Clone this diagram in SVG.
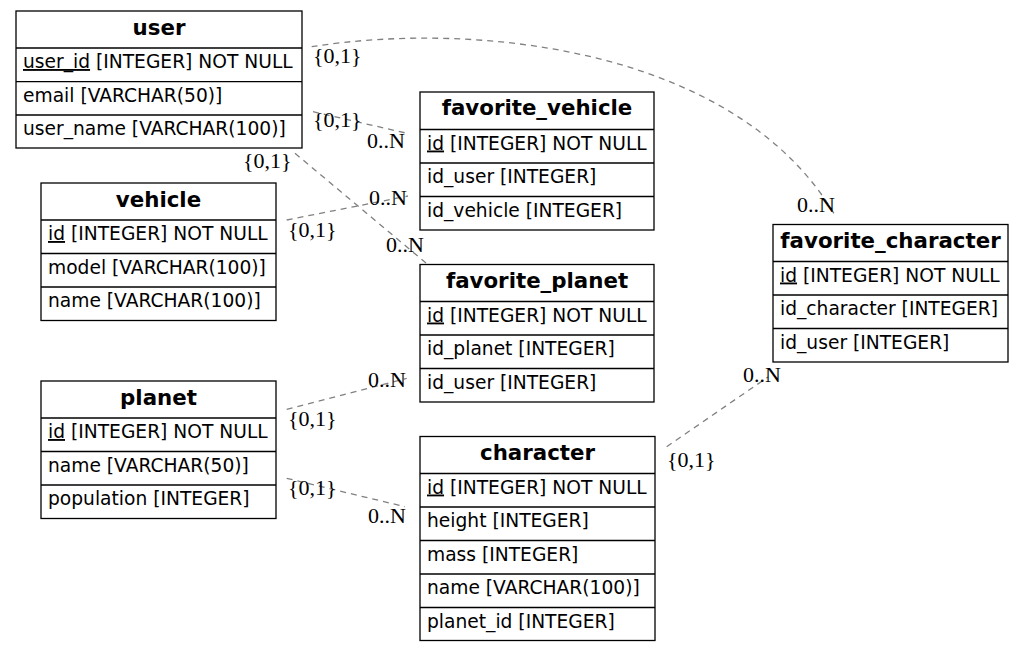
<svg xmlns="http://www.w3.org/2000/svg" width="1024" height="651" viewBox="0 0 1024 651">
<style>
.box{fill:#fff;stroke:#000;stroke-width:1.3}
.sep{stroke:#000;stroke-width:1.3}
.hd{font-family:"DejaVu Sans",sans-serif;font-weight:bold;font-size:21.33px;text-anchor:middle;fill:#000}
.fd{font-family:"DejaVu Sans",sans-serif;font-size:18.67px;fill:#000}
.u{text-decoration:underline}
.lb{font-family:"Liberation Serif",serif;font-size:22px;fill:#000}
.cn{fill:none;stroke:#808080;stroke-width:1.3;stroke-dasharray:6,5}
</style>
<rect width="1024" height="651" fill="#fff"/>
<g id="connectors">
<path class="cn" d="M311.7,46.7 C480,20 740,50 836,217"/>
<path class="cn" d="M313,111.7 L407,133.3"/>
<path class="cn" d="M295,153.3 L426,263"/>
<path class="cn" d="M286.7,220 L408,196"/>
<path class="cn" d="M286.7,409.3 L406.7,378.3"/>
<path class="cn" d="M286.7,478.3 L405,506.7"/>
<path class="cn" d="M666.7,446.7 L768,377"/>
<text class="lb" x="313" y="63">{0,1}</text>
<text class="lb" x="797" y="212">0..N</text>
<text class="lb" x="313" y="127">{0,1}</text>
<text class="lb" x="367" y="148">0..N</text>
<text class="lb" x="243" y="168">{0,1}</text>
<text class="lb" x="386" y="252">0..N</text>
<text class="lb" x="288" y="237">{0,1}</text>
<text class="lb" x="369" y="205">0..N</text>
<text class="lb" x="288" y="426">{0,1}</text>
<text class="lb" x="368" y="387">0..N</text>
<text class="lb" x="288" y="495">{0,1}</text>
<text class="lb" x="368" y="523">0..N</text>
<text class="lb" x="667" y="467">{0,1}</text>
<text class="lb" x="743" y="382">0..N</text>
</g>
<g id="user">
<rect class="box" x="16" y="11" width="286" height="137"/>
<line class="sep" x1="16" y1="48" x2="302" y2="48"/>
<line class="sep" x1="16" y1="81.7" x2="302" y2="81.7"/>
<line class="sep" x1="16" y1="115" x2="302" y2="115"/>
<text class="hd" x="159" y="34.5">user</text>
<text class="fd" x="23" y="68"><tspan class="u">user_id</tspan> [INTEGER] NOT NULL</text>
<text class="fd" x="23" y="101.5">email [VARCHAR(50)]</text>
<text class="fd" x="23" y="135">user_name [VARCHAR(100)]</text>
</g>
<g id="vehicle">
<rect class="box" x="41" y="183" width="235" height="137.5"/>
<line class="sep" x1="41" y1="220" x2="276" y2="220"/>
<line class="sep" x1="41" y1="253.5" x2="276" y2="253.5"/>
<line class="sep" x1="41" y1="287" x2="276" y2="287"/>
<text class="hd" x="158.5" y="206.5">vehicle</text>
<text class="fd" x="48" y="240"><tspan class="u">id</tspan> [INTEGER] NOT NULL</text>
<text class="fd" x="48" y="273.5">model [VARCHAR(100)]</text>
<text class="fd" x="48" y="307">name [VARCHAR(100)]</text>
</g>
<g id="planet">
<rect class="box" x="41" y="381" width="235" height="137.5"/>
<line class="sep" x1="41" y1="418" x2="276" y2="418"/>
<line class="sep" x1="41" y1="451.5" x2="276" y2="451.5"/>
<line class="sep" x1="41" y1="485" x2="276" y2="485"/>
<text class="hd" x="158.5" y="404.5">planet</text>
<text class="fd" x="48" y="438"><tspan class="u">id</tspan> [INTEGER] NOT NULL</text>
<text class="fd" x="48" y="471.5">name [VARCHAR(50)]</text>
<text class="fd" x="48" y="505">population [INTEGER]</text>
</g>
<g id="favorite_vehicle">
<rect class="box" x="420" y="92" width="234" height="138"/>
<line class="sep" x1="420" y1="129.5" x2="654" y2="129.5"/>
<line class="sep" x1="420" y1="163" x2="654" y2="163"/>
<line class="sep" x1="420" y1="196.5" x2="654" y2="196.5"/>
<text class="hd" x="537" y="115">favorite_vehicle</text>
<text class="fd" x="427" y="149.5"><tspan class="u">id</tspan> [INTEGER] NOT NULL</text>
<text class="fd" x="427" y="183">id_user [INTEGER]</text>
<text class="fd" x="427" y="216.5">id_vehicle [INTEGER]</text>
</g>
<g id="favorite_planet">
<rect class="box" x="420" y="264.5" width="234" height="137.5"/>
<line class="sep" x1="420" y1="301.5" x2="654" y2="301.5"/>
<line class="sep" x1="420" y1="335" x2="654" y2="335"/>
<line class="sep" x1="420" y1="368.5" x2="654" y2="368.5"/>
<text class="hd" x="537" y="288">favorite_planet</text>
<text class="fd" x="427" y="321.5"><tspan class="u">id</tspan> [INTEGER] NOT NULL</text>
<text class="fd" x="427" y="355">id_planet [INTEGER]</text>
<text class="fd" x="427" y="388.5">id_user [INTEGER]</text>
</g>
<g id="character">
<rect class="box" x="420" y="436.5" width="235" height="204"/>
<line class="sep" x1="420" y1="473.5" x2="655" y2="473.5"/>
<line class="sep" x1="420" y1="507" x2="655" y2="507"/>
<line class="sep" x1="420" y1="540.5" x2="655" y2="540.5"/>
<line class="sep" x1="420" y1="574" x2="655" y2="574"/>
<line class="sep" x1="420" y1="607.5" x2="655" y2="607.5"/>
<text class="hd" x="537.5" y="460">character</text>
<text class="fd" x="427" y="493.5"><tspan class="u">id</tspan> [INTEGER] NOT NULL</text>
<text class="fd" x="427" y="527">height [INTEGER]</text>
<text class="fd" x="427" y="560.5">mass [INTEGER]</text>
<text class="fd" x="427" y="594">name [VARCHAR(100)]</text>
<text class="fd" x="427" y="627.5">planet_id [INTEGER]</text>
</g>
<g id="favorite_character">
<rect class="box" x="773" y="224.5" width="235" height="137.5"/>
<line class="sep" x1="773" y1="261.5" x2="1008" y2="261.5"/>
<line class="sep" x1="773" y1="295" x2="1008" y2="295"/>
<line class="sep" x1="773" y1="328.5" x2="1008" y2="328.5"/>
<text class="hd" x="890.5" y="248">favorite_character</text>
<text class="fd" x="780" y="281.5"><tspan class="u">id</tspan> [INTEGER] NOT NULL</text>
<text class="fd" x="780" y="315">id_character [INTEGER]</text>
<text class="fd" x="780" y="348.5">id_user [INTEGER]</text>
</g>
</svg>
